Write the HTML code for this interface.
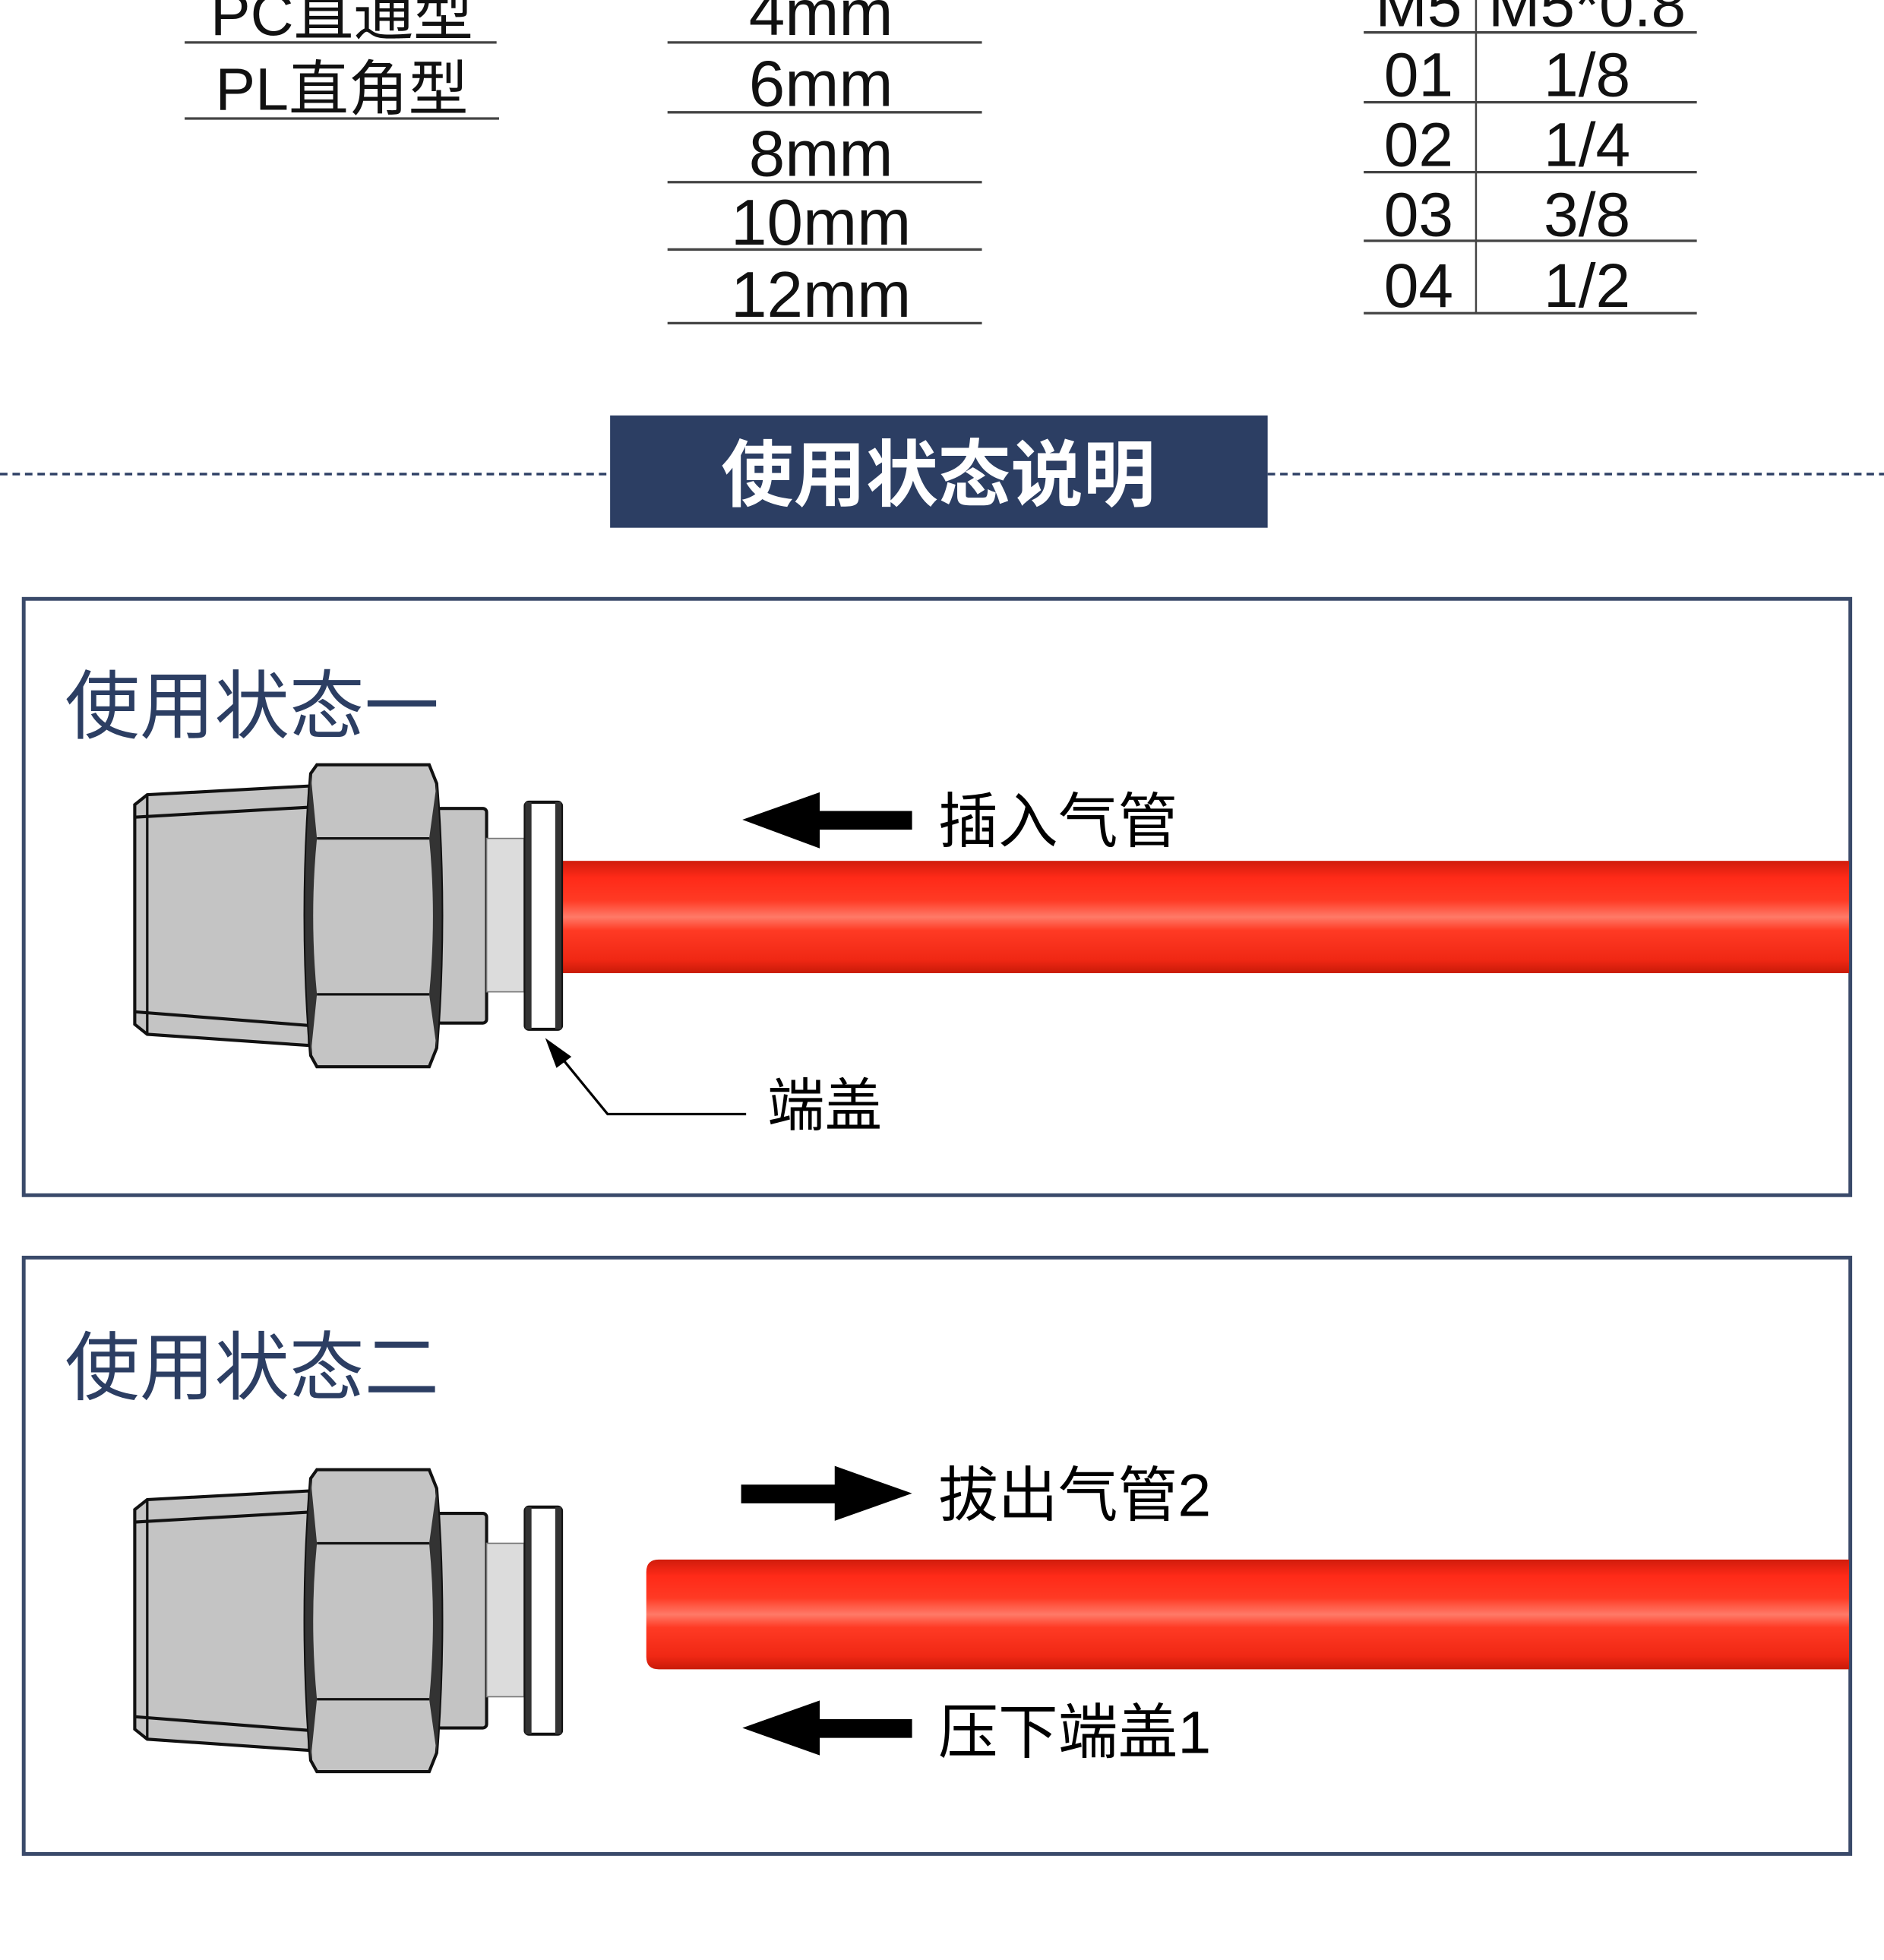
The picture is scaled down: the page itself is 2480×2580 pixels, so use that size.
<!DOCTYPE html>
<html><head><meta charset="utf-8"><style>
html,body{margin:0;padding:0;background:#fff;}
svg{display:block;}
text{font-family:"Liberation Sans","Noto Sans CJK SC",sans-serif;}
</style></head><body>
<svg width="2480" height="2580" viewBox="0 0 1510 1571" preserveAspectRatio="none" xmlns="http://www.w3.org/2000/svg">
<defs>
<linearGradient id="tube" x1="0" y1="0" x2="0" y2="1">
<stop offset="0" stop-color="#d01c0c"/>
<stop offset="0.15" stop-color="#ff2a18"/>
<stop offset="0.35" stop-color="#ff3a24"/>
<stop offset="0.5" stop-color="#ff7a68"/>
<stop offset="0.62" stop-color="#ff3a24"/>
<stop offset="0.88" stop-color="#f02814"/>
<stop offset="1" stop-color="#c81a08"/>
</linearGradient>
<g id="fit">
<polygon points="108,645 118,637 248,630 248,838 118,829 108,821" fill="#c4c4c4" stroke="#111" stroke-width="2.5"/>
<line x1="118" y1="637" x2="118" y2="829" stroke="#111" stroke-width="2"/>
<line x1="108" y1="655" x2="248" y2="647" stroke="#111" stroke-width="2.5"/>
<line x1="108" y1="811" x2="248" y2="822" stroke="#111" stroke-width="2.5"/>
<rect x="350" y="648" width="40" height="172" rx="3" fill="#c4c4c4" stroke="#111" stroke-width="2.5"/>
<path d="M249,620 L254,613 L344,613 L350,628 Q358,734 350,840 L344,855 L254,855 L249,846 Q240,734 249,620 Z" fill="#c4c4c4" stroke="#111" stroke-width="2.5"/>
<path d="M249,620 L254,672 Q248,734 254,797 L249,846 Q240,734 249,620Z" fill="#333"/>
<path d="M350,628 L344,672 Q350,734 344,797 L350,840 Q358,734 350,628Z" fill="#333"/>
<line x1="254" y1="672" x2="344" y2="672" stroke="#111" stroke-width="2"/>
<line x1="254" y1="797" x2="344" y2="797" stroke="#111" stroke-width="2"/>
<rect x="390" y="672" width="30" height="123" fill="#dcdcdc" stroke="#777" stroke-width="1"/>
<rect x="421" y="643" width="29" height="182" rx="3" fill="#fff" stroke="#111" stroke-width="2.5"/>
<rect x="421" y="643" width="5" height="182" fill="#333"/>
<rect x="445" y="643" width="5" height="182" fill="#333"/>
</g>
</defs>

<!-- top tables -->
<g fill="#111" text-anchor="middle">
<g font-size="48">
<text x="274" y="28">PC直通型</text>
<text x="274" y="88">PL直角型</text>
</g>
<g font-size="52">
<text x="658" y="28">4mm</text>
<text x="658" y="85">6mm</text>
<text x="658" y="141">8mm</text>
<text x="658" y="196">10mm</text>
<text x="658" y="254">12mm</text>
</g>
<g font-size="50">
<text x="1137" y="21">M5</text>
<text x="1272" y="21">M5*0.8</text>
<text x="1137" y="77">01</text>
<text x="1272" y="77">1/8</text>
<text x="1137" y="133">02</text>
<text x="1272" y="133">1/4</text>
<text x="1137" y="189">03</text>
<text x="1272" y="189">3/8</text>
<text x="1137" y="246">04</text>
<text x="1272" y="246">1/2</text>
</g>
</g>
<g stroke="#444" stroke-width="2">
<line x1="148" y1="34" x2="398" y2="34"/>
<line x1="148" y1="95" x2="400" y2="95"/>
<line x1="535" y1="34" x2="787" y2="34"/>
<line x1="535" y1="90" x2="787" y2="90"/>
<line x1="535" y1="146" x2="787" y2="146"/>
<line x1="535" y1="200" x2="787" y2="200"/>
<line x1="535" y1="259" x2="787" y2="259"/>
<line x1="1093" y1="26" x2="1360" y2="26"/>
<line x1="1093" y1="82" x2="1360" y2="82"/>
<line x1="1093" y1="138" x2="1360" y2="138"/>
<line x1="1093" y1="193" x2="1360" y2="193"/>
<line x1="1093" y1="251" x2="1360" y2="251"/>
<line x1="1183" y1="0" x2="1183" y2="251" stroke-width="1.5"/>
</g>

<!-- header -->
<line x1="0" y1="380" x2="489" y2="380" stroke="#2c3e63" stroke-width="2" stroke-dasharray="6,4"/>
<line x1="1016" y1="380" x2="1510" y2="380" stroke="#2c3e63" stroke-width="2" stroke-dasharray="6,4"/>
<rect x="489" y="333" width="527" height="90" fill="#2c3e63"/>
<text x="752" y="401" font-size="58" font-weight="bold" fill="#fff" text-anchor="middle">使用状态说明</text>

<!-- panel 1 -->
<rect x="19" y="480" width="1464" height="478" fill="none" stroke="#3a4a6a" stroke-width="3"/>
<text x="52" y="587" font-size="60" fill="#2c3e63">使用状态一</text>
<rect x="451" y="690" width="1031" height="90" fill="url(#tube)"/>
<use href="#fit"/>
<polygon points="595,657 657,635 657,650 731,650 731,665 657,665 657,680" fill="#000"/>
<text x="752" y="675" font-size="48" fill="#000">插入气管</text>
<polyline points="442,838 487,893 598,893" fill="none" stroke="#000" stroke-width="2"/>
<polygon points="437,832 458,847 446,856" fill="#000"/>
<text x="615" y="902" font-size="46" fill="#000">端盖</text>

<!-- panel 2 -->
<rect x="19" y="1008" width="1464" height="478" fill="none" stroke="#3a4a6a" stroke-width="3"/>
<text x="52" y="1117" font-size="60" fill="#2c3e63">使用状态二</text>
<path d="M528,1250 L1482,1250 L1482,1338 L528,1338 Q518,1338 518,1328 L518,1260 Q518,1250 528,1250Z" fill="url(#tube)"/>
<use href="#fit" transform="translate(0,565)"/>
<polygon points="731,1197 669,1175 669,1190 594,1190 594,1205 669,1205 669,1219" fill="#000"/>
<text x="752" y="1215" font-size="48" fill="#000">拔出气管2</text>
<polygon points="595,1385 657,1363 657,1378 731,1378 731,1393 657,1393 657,1407" fill="#000"/>
<text x="752" y="1405" font-size="48" fill="#000">压下端盖1</text>
</svg>
</body></html>
